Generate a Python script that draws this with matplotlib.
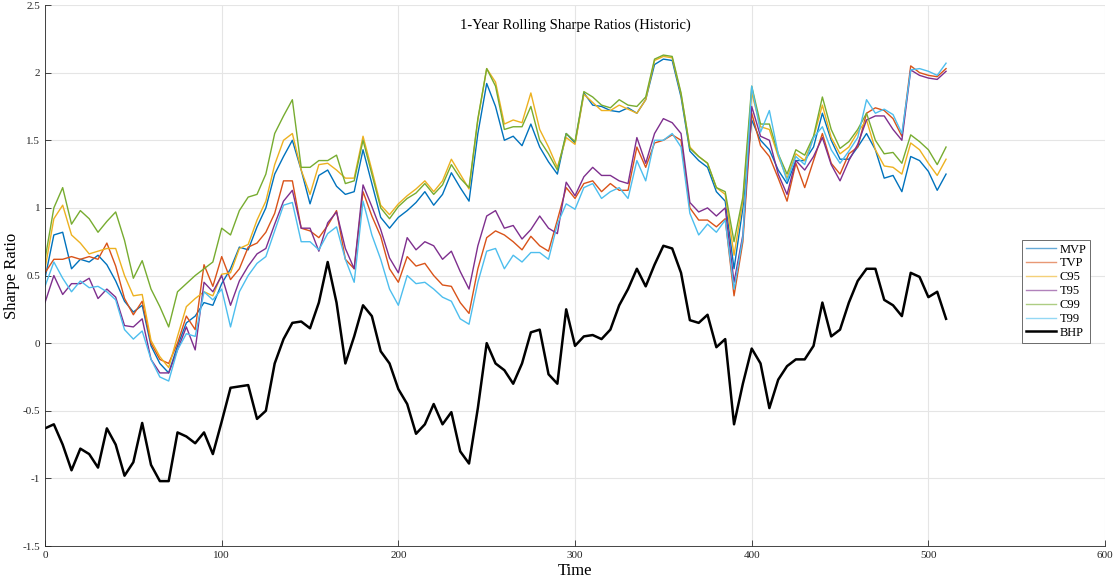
import numpy as np
import matplotlib
matplotlib.use("Agg")
import matplotlib.pyplot as plt

# rolling sharpe ratios, read every 5 time steps (t = 0, 5, ..., 510)
mvp = [0.48, 0.80, 0.82, 0.55, 0.62, 0.60, 0.65, 0.58, 0.46, 0.31, 0.23, 0.28, -0.02, -0.15, -0.22, -0.02, 0.15, 0.20,
       0.30, 0.28, 0.44, 0.55, 0.71, 0.69, 0.86, 1.00, 1.25, 1.38, 1.50, 1.28, 1.03, 1.24, 1.28, 1.16, 1.10,
       1.12, 1.43, 1.18, 0.93, 0.85, 0.93, 0.98, 1.04, 1.12, 1.02, 1.10, 1.26, 1.15, 1.05, 1.55, 1.92, 1.75,
       1.50, 1.53, 1.46, 1.62, 1.45, 1.34, 1.25, 1.55, 1.48, 1.85, 1.76, 1.75, 1.72, 1.71, 1.74, 1.70, 1.80,
       2.06, 2.10, 2.09, 1.82, 1.42, 1.35, 1.30, 1.12, 1.05, 0.55, 1.00, 1.65, 1.50, 1.43, 1.28, 1.18, 1.35,
       1.35, 1.45, 1.70, 1.50, 1.36, 1.36, 1.45, 1.55, 1.43, 1.22, 1.24, 1.12, 1.38, 1.35, 1.27, 1.13, 1.25]
tvp = [0.52, 0.62, 0.62, 0.64, 0.62, 0.64, 0.62, 0.74, 0.57, 0.33, 0.21, 0.31, 0.00, -0.12, -0.15, 0.00, 0.20, 0.10,
       0.58, 0.42, 0.64, 0.47, 0.55, 0.71, 0.74, 0.82, 0.96, 1.20, 1.20, 0.85, 0.83, 0.78, 0.87, 0.98, 0.62,
       0.55, 1.12, 0.94, 0.79, 0.55, 0.45, 0.64, 0.57, 0.59, 0.50, 0.43, 0.42, 0.30, 0.22, 0.55, 0.78, 0.83,
       0.80, 0.75, 0.69, 0.79, 0.72, 0.68, 0.91, 1.15, 1.07, 1.18, 1.20, 1.12, 1.18, 1.13, 1.13, 1.45, 1.30,
       1.48, 1.50, 1.54, 1.50, 1.00, 0.91, 0.91, 0.86, 0.92, 0.35, 0.75, 1.70, 1.46, 1.38, 1.22, 1.05, 1.33,
       1.15, 1.35, 1.55, 1.33, 1.25, 1.40, 1.45, 1.70, 1.74, 1.72, 1.66, 1.53, 2.05, 2.00, 1.98, 1.97, 2.03]
c95 = [0.55, 0.92, 1.02, 0.80, 0.74, 0.66, 0.68, 0.70, 0.70, 0.50, 0.35, 0.36, 0.02, -0.10, -0.18, 0.05, 0.27, 0.33,
       0.38, 0.35, 0.51, 0.52, 0.70, 0.73, 0.91, 1.05, 1.32, 1.50, 1.55, 1.28, 1.10, 1.32, 1.33, 1.28, 1.22,
       1.22, 1.53, 1.28, 1.02, 0.95, 1.03, 1.09, 1.14, 1.20, 1.12, 1.20, 1.36, 1.25, 1.14, 1.65, 2.03, 1.93,
       1.62, 1.65, 1.63, 1.85, 1.58, 1.45, 1.30, 1.52, 1.47, 1.84, 1.78, 1.72, 1.72, 1.76, 1.73, 1.70, 1.80,
       2.09, 2.12, 2.11, 1.84, 1.45, 1.38, 1.33, 1.15, 1.10, 0.65, 1.05, 1.85, 1.60, 1.58, 1.38, 1.22, 1.40,
       1.35, 1.52, 1.76, 1.52, 1.40, 1.45, 1.56, 1.65, 1.43, 1.31, 1.30, 1.25, 1.48, 1.43, 1.33, 1.24, 1.36]
t95 = [0.30, 0.50, 0.36, 0.44, 0.44, 0.48, 0.33, 0.40, 0.34, 0.13, 0.12, 0.18, -0.12, -0.22, -0.22, -0.05, 0.12, -0.05,
       0.45, 0.38, 0.50, 0.28, 0.46, 0.57, 0.66, 0.70, 0.88, 1.05, 1.13, 0.85, 0.85, 0.68, 0.89, 0.97, 0.70,
       0.55, 1.17, 1.01, 0.84, 0.63, 0.52, 0.78, 0.69, 0.75, 0.72, 0.62, 0.68, 0.53, 0.40, 0.72, 0.94, 0.98,
       0.85, 0.87, 0.77, 0.84, 0.94, 0.85, 0.81, 1.19, 1.09, 1.23, 1.30, 1.24, 1.24, 1.20, 1.18, 1.52, 1.33,
       1.55, 1.66, 1.63, 1.55, 1.04, 0.97, 1.00, 0.94, 1.00, 0.45, 0.80, 1.75, 1.53, 1.50, 1.25, 1.10, 1.35,
       1.28, 1.38, 1.52, 1.32, 1.20, 1.35, 1.47, 1.65, 1.68, 1.68, 1.58, 1.50, 2.02, 1.98, 1.96, 1.95, 2.01]
c99 = [0.62, 1.00, 1.15, 0.88, 0.98, 0.92, 0.82, 0.90, 0.97, 0.76, 0.48, 0.61, 0.40, 0.27, 0.12, 0.38, 0.44, 0.50,
       0.55, 0.60, 0.85, 0.80, 0.98, 1.08, 1.10, 1.25, 1.55, 1.68, 1.80, 1.30, 1.30, 1.35, 1.35, 1.39, 1.18,
       1.20, 1.50, 1.25, 1.00, 0.92, 1.01, 1.07, 1.11, 1.18, 1.10, 1.17, 1.32, 1.22, 1.15, 1.66, 2.03, 1.90,
       1.58, 1.60, 1.60, 1.75, 1.50, 1.40, 1.28, 1.55, 1.49, 1.86, 1.82, 1.76, 1.74, 1.80, 1.76, 1.75, 1.82,
       2.10, 2.13, 2.12, 1.85, 1.44, 1.38, 1.33, 1.15, 1.12, 0.75, 1.08, 1.90, 1.62, 1.62, 1.40, 1.25, 1.43,
       1.39, 1.53, 1.82, 1.58, 1.44, 1.49, 1.58, 1.70, 1.50, 1.40, 1.41, 1.33, 1.54, 1.49, 1.43, 1.32, 1.45]
t99 = [0.42, 0.60, 0.48, 0.38, 0.46, 0.41, 0.42, 0.38, 0.32, 0.10, 0.03, 0.09, -0.12, -0.25, -0.28, -0.05, 0.07, 0.05,
       0.38, 0.32, 0.40, 0.12, 0.38, 0.50, 0.59, 0.64, 0.83, 1.02, 1.04, 0.75, 0.75, 0.69, 0.81, 0.86, 0.62,
       0.45, 1.05, 0.80, 0.62, 0.40, 0.28, 0.50, 0.44, 0.45, 0.40, 0.34, 0.31, 0.18, 0.14, 0.45, 0.68, 0.70,
       0.55, 0.65, 0.60, 0.67, 0.67, 0.62, 0.88, 1.03, 0.99, 1.15, 1.18, 1.07, 1.12, 1.15, 1.07, 1.35, 1.20,
       1.50, 1.50, 1.55, 1.45, 0.96, 0.80, 0.88, 0.82, 0.91, 0.40, 0.78, 1.90, 1.56, 1.72, 1.40, 1.20, 1.38,
       1.32, 1.52, 1.60, 1.43, 1.33, 1.42, 1.52, 1.80, 1.70, 1.73, 1.69, 1.55, 2.02, 2.03, 2.01, 1.98, 2.07]
bhp = [-0.63, -0.60, -0.75, -0.94, -0.78, -0.82, -0.92, -0.63, -0.75, -0.98, -0.88, -0.59, -0.90, -1.02, -1.02, -0.66,
       -0.69, -0.74, -0.66, -0.82, -0.58, -0.33, -0.32, -0.31, -0.56, -0.50, -0.15, 0.03, 0.15, 0.16, 0.11, 0.30,
       0.60, 0.30, -0.15, 0.05, 0.28, 0.20, -0.06, -0.15, -0.34, -0.45, -0.67, -0.60, -0.45, -0.60, -0.51, -0.80,
       -0.89, -0.48, 0.00, -0.15, -0.20, -0.30, -0.15, 0.08, 0.10, -0.23, -0.30, 0.25, -0.02, 0.05, 0.06, 0.03,
       0.10, 0.28, 0.40, 0.55, 0.42, 0.58, 0.72, 0.70, 0.52, 0.17, 0.15, 0.21, -0.03, 0.03, -0.60, -0.30, -0.04,
       -0.15, -0.48, -0.27, -0.17, -0.12, -0.12, -0.02, 0.30, 0.05, 0.10, 0.30, 0.46, 0.55, 0.55, 0.32, 0.28,
       0.20, 0.52, 0.49, 0.34, 0.38, 0.18]

names = ["MVP", "TVP", "C95", "T95", "C99", "T99"]
series = [mvp, tvp, c95, t95, c99, t99]
colors = ["#0072BD", "#D95319", "#EDB120", "#7E2F8E", "#77AC30", "#4DBEEE"]

plt.rcParams["font.family"] = ["Liberation Serif", "DejaVu Serif"]

fig = plt.figure(figsize=(11.17, 5.84), dpi=100)
ax = fig.add_axes([0.0403, 0.065, 0.949, 0.9264])

for name, s, c in zip(names, series, colors):
    ax.plot(5 * np.arange(len(s)), s, color=c, lw=1.0, label=name)
ax.plot(5 * np.arange(len(bhp)), bhp, color="black", lw=1.8, label="BHP")

ax.set_xlim(0, 600)
ax.set_ylim(-1.5, 2.5)
ax.set_xticks(np.arange(0, 601, 100))
ax.set_yticks(np.arange(-1.5, 2.51, 0.5))
ax.set_yticklabels(["-1.5", "-1", "-0.5", "0", "0.5", "1", "1.5", "2", "2.5"])
ax.tick_params(direction="in", length=4, labelsize=8, colors="#262626", width=0.6)
ax.grid(True, color="#e5e5e5", lw=0.8)
ax.set_axisbelow(True)
for side in ["top", "right"]:
    ax.spines[side].set_visible(False)
for side in ["left", "bottom"]:
    ax.spines[side].set_color("#262626")
    ax.spines[side].set_linewidth(0.6)

ax.set_xlabel("Time", fontsize=12, labelpad=2)
ax.set_ylabel("Sharpe Ratio", fontsize=12, labelpad=2)
ax.text(0.5, 0.962, "1-Year Rolling Sharpe Ratios (Historic)", transform=ax.transAxes,
        ha="center", va="center", fontsize=10.5)

leg = ax.legend(loc="upper left", bbox_to_anchor=(0.9217, 0.566), fontsize=9, frameon=True,
                fancybox=False, framealpha=1, edgecolor="#555555", handlelength=2.4,
                borderpad=0.3, labelspacing=0.15, handletextpad=0.3, borderaxespad=0)
leg.get_frame().set_linewidth(0.6)
for line in leg.get_lines()[:-1]:
    line.set_alpha(0.6)

fig.savefig("out.png", dpi=100)
